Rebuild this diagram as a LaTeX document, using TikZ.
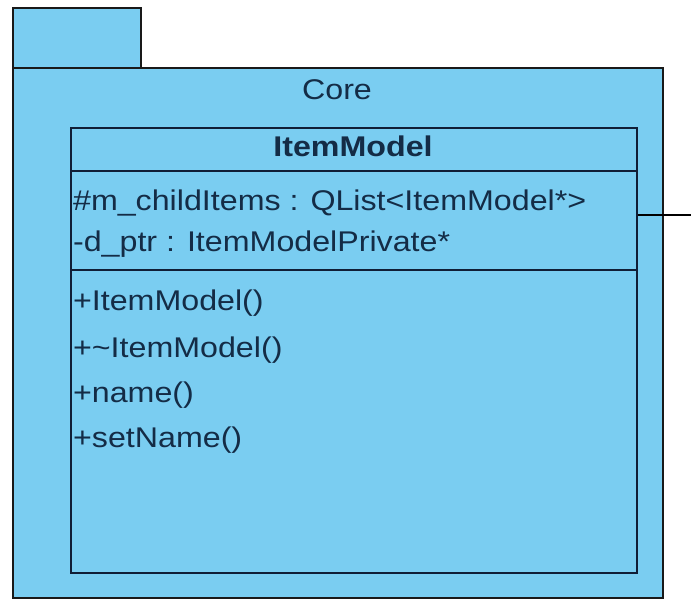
\documentclass[tikz,border=0pt]{standalone}
\usepackage{fontspec}
\setmainfont{Liberation Sans}[FakeStretch=1.13]
\usetikzlibrary{calc}
\definecolor{umlfill}{RGB}{122,205,241}
\definecolor{umlline}{RGB}{16,30,54}
\definecolor{umltext}{RGB}{20,44,70}

\begin{document}
\begin{tikzpicture}[x=1pt,y=-1pt,line width=2.2pt]
    % `pkg' is used for the package tab and body.
    % `cls' is used for the class box, `member' for its rows.
    \tikzstyle{pkg} = [draw=black!90,fill=umlfill,inner sep=0pt,anchor=north west]
    \tikzstyle{cls} = [draw=umlline,fill=umlfill,inner sep=0pt,anchor=north west,
                       minimum width=566pt,minimum height=445pt]
    \tikzstyle{member} = [anchor=base west,inner sep=0pt,text=umltext,
                          font=\fontsize{28.5}{34}\selectfont]
    %
    \useasboundingbox (0,0) rectangle (691,599);
    \node[pkg,minimum width=128pt,minimum height=60pt] (tab) at (12,7) {};
    \node[pkg,minimum width=650pt,minimum height=530pt] (core) at (12,67) {};
    \node[member,anchor=base] (corename) at (337,100) {Core};
    %
    \node[cls] (itemmodel) at (70,127) {};
    \node[member,anchor=base,font=\fontsize{28.5}{34}\selectfont\bfseries]
        (title) at (353,157) {ItemModel};
    \coordinate (sep1) at (70,171);
    \coordinate (sep2) at (70,270);
    \draw[umlline] (sep1) -- (sep1 -| itemmodel.east)
                   (sep2) -- (sep2 -| itemmodel.east);
    % attributes
    \node[member] (attr1) at (72,210) {\#m\_childItems : QList<ItemModel*>};
    \node[member] (attr2) at (72,251) {-d\_ptr : ItemModelPrivate*};
    % operations
    \node[member] (op1) at (72,310) {+ItemModel()};
    \node[member] (op2) at (72,357) {+\textasciitilde ItemModel()};
    \node[member] (op3) at (72,402) {+name()};
    \node[member] (op4) at (72,447) {+setName()};
    %
    \coordinate (offpage) at (691,215);
    \draw[line width=2pt] (offpage -| itemmodel.east) -- (offpage);
\end{tikzpicture}
\end{document}
